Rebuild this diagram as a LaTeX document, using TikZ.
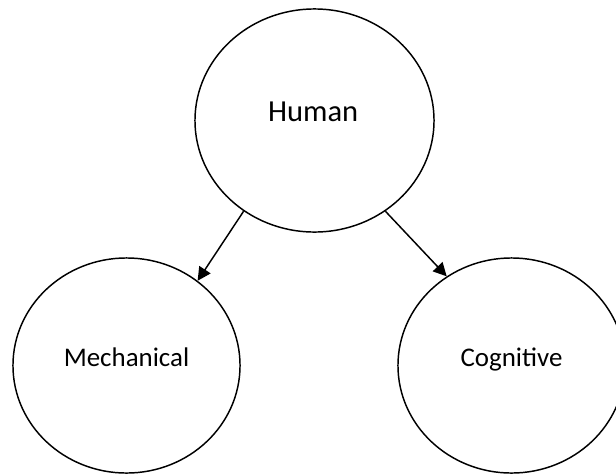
\documentclass[tikz,border=0pt]{standalone}
\usepackage{fontspec}
\setmainfont{Carlito}
\usetikzlibrary{shapes.geometric,arrows.meta}
\begin{document}
\begin{tikzpicture}[x=0.75pt,y=-0.75pt,
  bubble/.style={draw=black,line width=1.1pt,ellipse,inner sep=0pt,fill=white},
  big/.style={font=\fontsize{22.9}{27}\selectfont,anchor=base,inner sep=0pt},
  small/.style={font=\fontsize{20.2}{24}\selectfont,anchor=base,inner sep=0pt},
  conn/.style={draw=black,line width=1.1pt,-{Triangle[length=10pt,width=10pt]}}]
\useasboundingbox (0,0) rectangle (616,475);
\node[bubble,minimum width=179.3pt,minimum height=167.3pt] (H) at (314.5,120.5) {};
\node[bubble,minimum width=170.3pt,minimum height=161.3pt] (M) at (126.5,365.5) {};
\node[bubble,minimum width=170.3pt,minimum height=161.3pt] (C) at (511.5,365.5) {};
\node[big] (Ht) at ([yshift=-1.1pt,xshift=-1pt]H.center) {Human};
\node[small] (Mt) at ([yshift=-1.1pt]M.center) {Mechanical};
\node[small] (Ct) at ([yshift=-1.1pt]C.center) {Cognitive};
\draw[conn] (H.232.5) -- (M.50.9);
\draw[conn] (H.308.3) -- (C.126.4);
\end{tikzpicture}
\end{document}
